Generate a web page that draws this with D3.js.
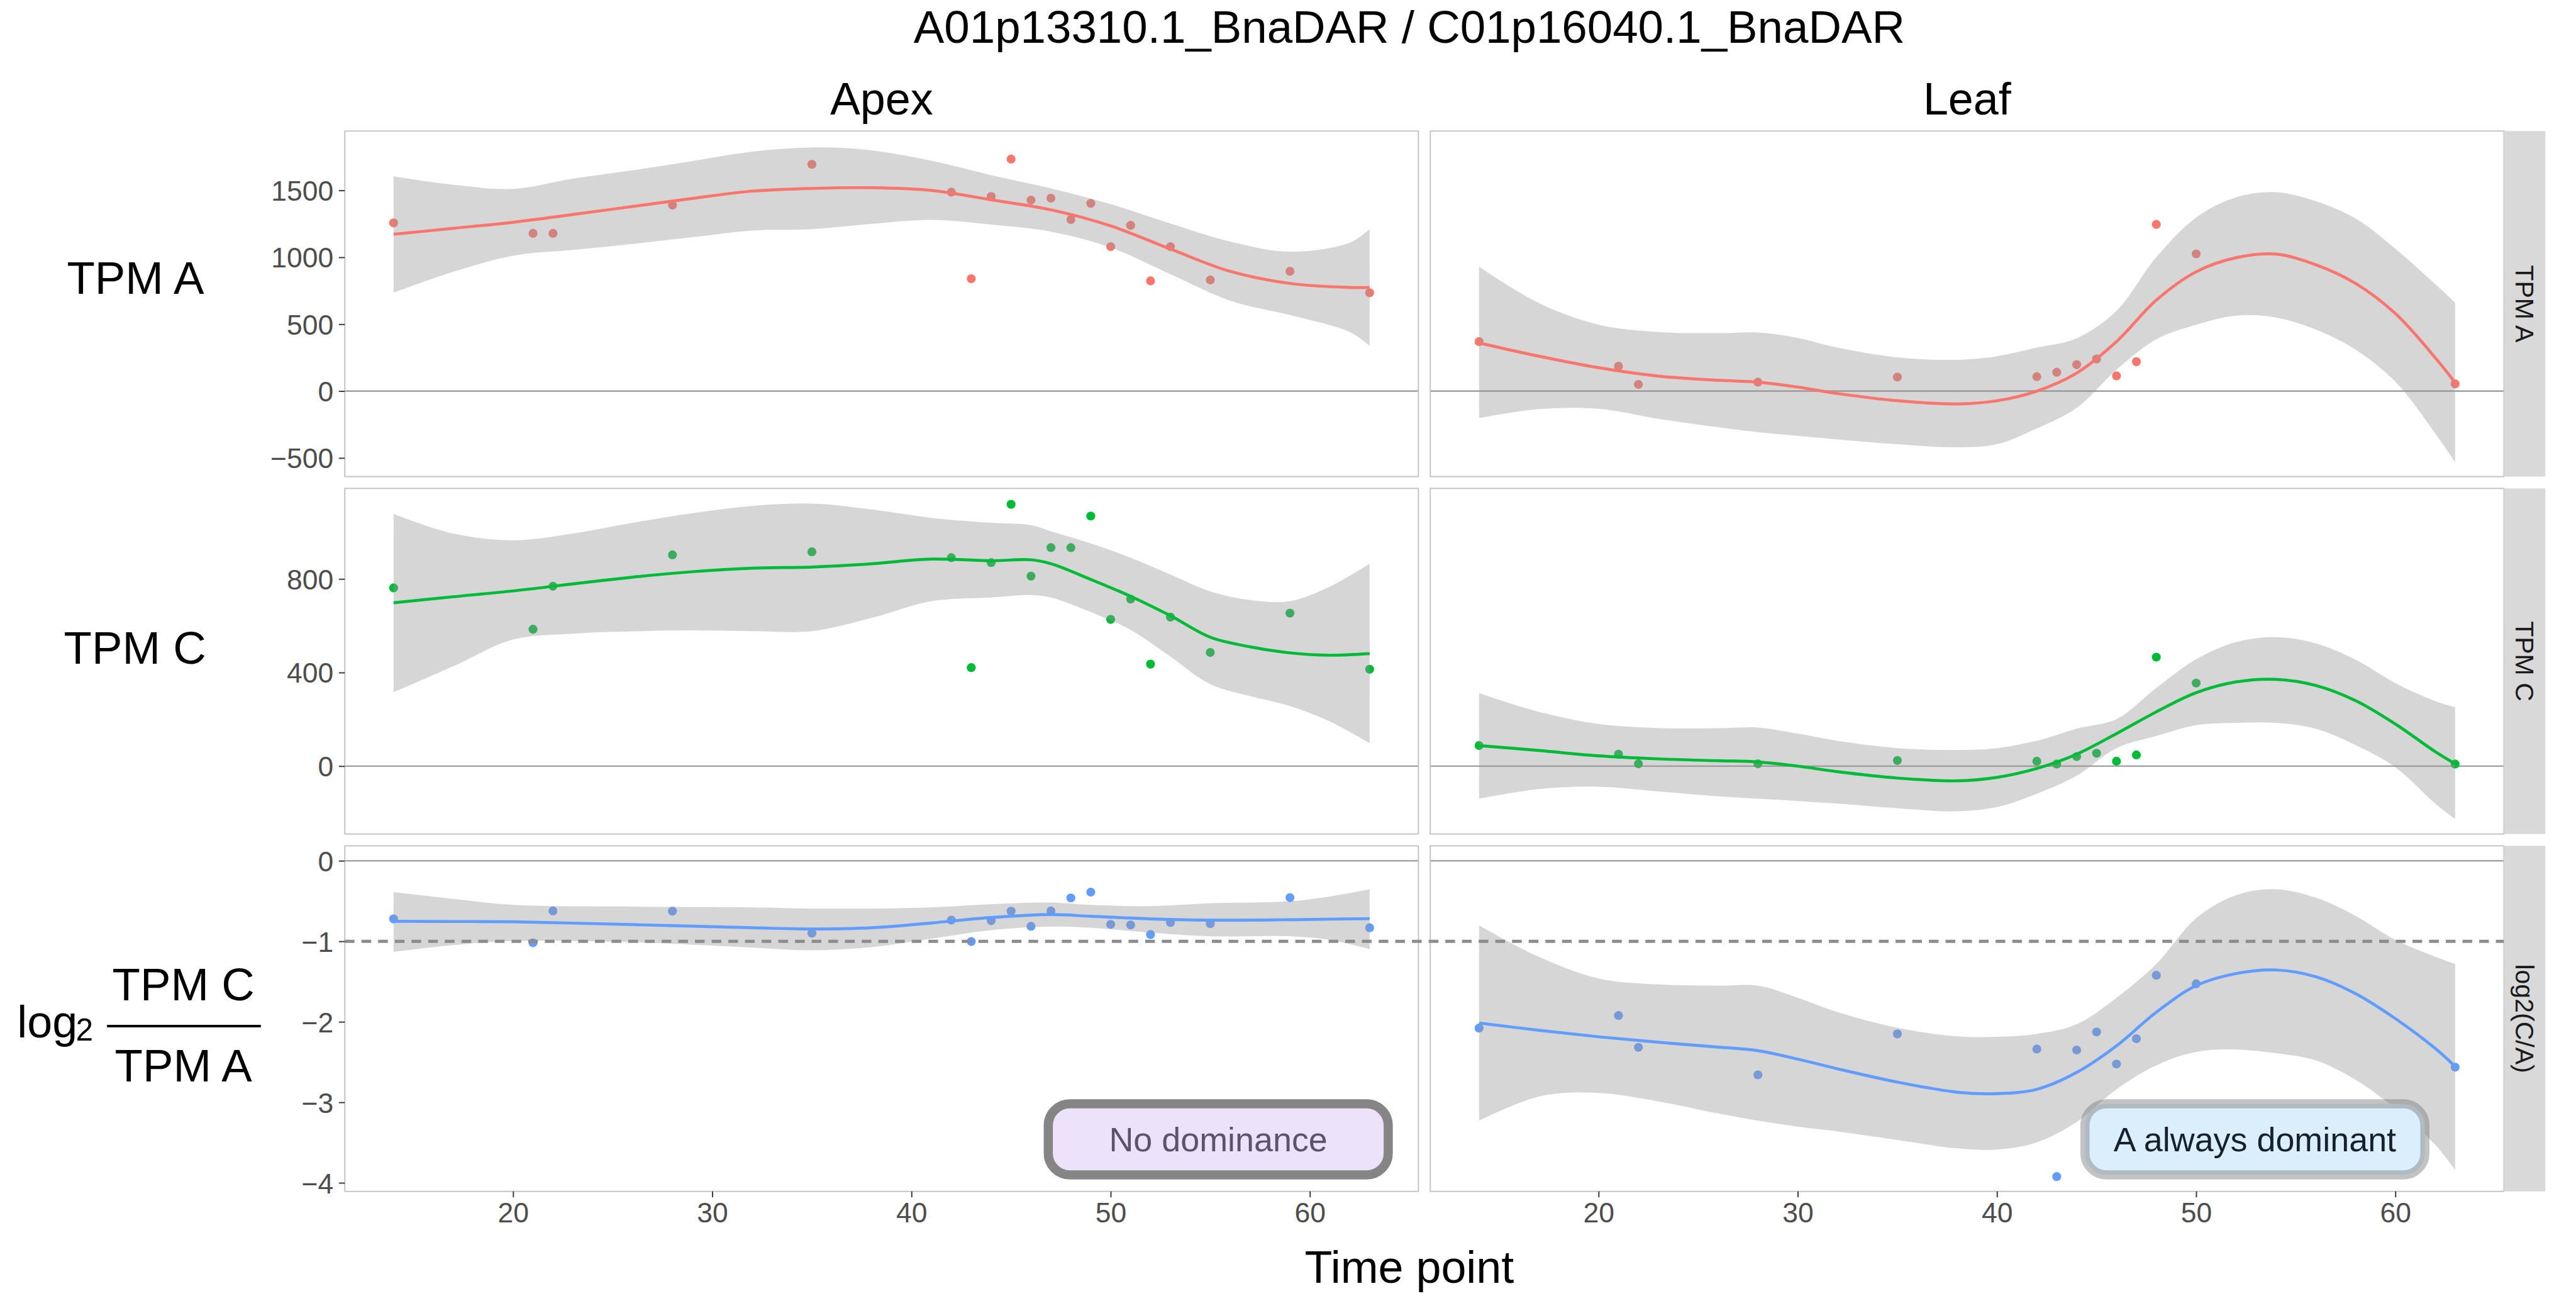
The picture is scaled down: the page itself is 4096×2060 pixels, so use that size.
<!DOCTYPE html>
<html><head><meta charset="utf-8">
<script src="https://cdn.jsdelivr.net/npm/d3@7"></script>
<style>html,body{margin:0;padding:0;background:#fff;} svg{display:block;font-family:"Liberation Sans",Arial,Helvetica,sans-serif;}</style>
</head><body><svg id="chart" width="4096" height="2060"></svg>
<script>
// ---------------- data ----------------
const titleText = "A01p13310.1_BnaDAR / C01p16040.1_BnaDAR";
const tissues = ["Apex", "Leaf"];
const rowStrips = ["TPM A", "TPM C", "log2(C/A)"];
const xTicks = [20, 30, 40, 50, 60];
const yTicksA = [-500, 0, 500, 1000, 1500];
const yTicksC = [0, 400, 800];
const yTicksL = [-4, -3, -2, -1, 0];

// observed points
const apexTime = [14,21,22,28,35,42,43,44,45,46,47,48,49,50,51,52,53,55,59,63];
const apexTpmA = [1257,1179,1179,1390,1695,1487,840,1455,1734,1428,1442,1282,1403,1080,1239,824,1080,831,896,735];
const apexTpmC = [762,585,769,903,916,891,421,870,1119,812,934,934,1069,627,714,436,637,486,654,414];
const apexLog2 = [-0.722,-1.018,-0.623,-0.626,-0.898,-0.737,-1.003,-0.743,-0.626,-0.814,-0.623,-0.461,-0.389,-0.790,-0.796,-0.916,-0.766,-0.781,-0.458,-0.832];

const leafTime = [14,21,22,28,35,42,43,44,45,46,47,48,50,63];
const leafTpmA = [370,186,50,67,105,108,141,198,240,114,220,1246,1026,54];
const leafTpmC = [88,51,10,10,24,21,9,41,55,21,48,466,355,9];
const leafLog2 = [-2.078,-1.922,-2.317,-2.659,-2.150,-2.338,-3.922,-2.350,-2.126,-2.524,-2.210,-1.422,-1.527,-2.563];

// smoother (loess) fit and confidence band
const apexA_t   = [14,17,20,23,26,29,32,35,38,41,44,47,50,53,56,59,62,63];
const apexA_fit = [1172,1217,1262,1320,1380,1440,1495,1515,1520,1500,1430,1355,1235,1062,895,805,775,775];
const apexA_lo  = [736,892,1012,1055,1100,1150,1200,1210,1250,1280,1244,1192,1073,874,676,568,442,339];
const apexA_hi  = [1605,1542,1512,1588,1650,1720,1790,1821,1800,1722,1614,1515,1397,1253,1118,1042,1109,1212];

const apexC_t   = [14,17,20,23,26,29,32,35,38,41,44,46,47,49,51,53,55,57,59,61,63];
const apexC_fit = [698,724,749,779,808,831,846,851,865,885,878,882,865,798,726,643,551,510,484,474,481];
const apexC_hi  = [1078,994,965,994,1040,1081,1112,1122,1097,1061,1040,1030,1004,952,891,819,747,710,705,767,865];
const apexC_lo  = [316,427,541,566,576,580,577,577,633,705,721,731,721,659,582,468,350,299,257,191,98];

const apexL_t   = [14,17,20,26,32,35,38,41,44,47,49,52,55,59,61,63];
const apexL_fit = [-0.751,-0.754,-0.757,-0.793,-0.832,-0.847,-0.832,-0.772,-0.705,-0.668,-0.689,-0.722,-0.737,-0.731,-0.725,-0.719];
const apexL_hi  = [-0.389,-0.473,-0.548,-0.569,-0.578,-0.593,-0.593,-0.578,-0.539,-0.518,-0.548,-0.563,-0.527,-0.503,-0.443,-0.353];
const apexL_lo  = [-1.132,-1.048,-0.997,-1.012,-1.078,-1.111,-1.072,-0.967,-0.862,-0.817,-0.832,-0.892,-0.937,-0.937,-0.982,-1.096];

const leaf_t    = [14,17,20,23,26,28,30,32,35,38,40,42,44,46,48,50,52,54,56,58,60,62,63];
const leafA_fit = [360,261,175,112,81,67,30,-18,-72,-96,-72,0,135,370,680,892,997,1024,945,805,580,250,63];
const leafA_hi  = [929,658,496,442,433,438,397,325,252,234,261,325,395,600,1001,1298,1448,1487,1420,1290,1064,800,662];
const leafA_lo  = [-202,-135,-132,-207,-270,-307,-334,-361,-397,-420,-397,-279,-125,160,388,496,564,550,460,310,70,-315,-532];

const leafC_fit = [88,67,44,31,23,18,0,-24,-51,-63,-48,-10,51,139,232,314,360,371,345,280,180,62,10];
const leafC_hi  = [312,232,180,163,162,165,139,108,77,69,77,108,160,201,334,457,530,551,525,455,355,278,252];
const leafC_lo  = [-139,-98,-88,-108,-129,-139,-149,-160,-180,-193,-175,-118,-41,77,129,175,185,185,160,90,-5,-160,-226];

const leafL_fit = [-2.015,-2.105,-2.186,-2.254,-2.314,-2.359,-2.464,-2.584,-2.749,-2.874,-2.892,-2.838,-2.629,-2.299,-1.880,-1.551,-1.401,-1.356,-1.44,-1.65,-1.96,-2.33,-2.554];
const leafL_hi  = [-0.802,-1.192,-1.461,-1.536,-1.551,-1.551,-1.701,-1.880,-2.075,-2.180,-2.186,-2.150,-2.030,-1.701,-1.281,-0.713,-0.428,-0.353,-0.458,-0.683,-0.982,-1.192,-1.281];
const leafL_lo  = [-3.228,-2.928,-2.883,-2.988,-3.138,-3.228,-3.302,-3.362,-3.467,-3.572,-3.587,-3.497,-3.243,-2.838,-2.539,-2.374,-2.344,-2.389,-2.479,-2.719,-3.078,-3.527,-3.841];

const dominanceLabels = ["No dominance", "A always dominant"];
const dominanceAt = [[55.4, -3.46], [52.95, -3.46]];
const thresholdValue = -1;

// ---------------- layout (reference pixel units, scaled at the end) ----------------
const SCALE = 4096 / 4789;
const PX0 = [641, 2659], PW = 1996;
const PY0 = [243.5, 907.7, 1571.9], PH = 642.2;
const STRIP_W = 77;
const colors = ["#F8766D", "#00BA38", "#619CFF"];
const yDomains = [[-639, 1944], [-290, 1187], [-4.106, 0.186]];
const yTicksAll = [yTicksA, yTicksC, yTicksL];

const svg = d3.select("#chart");
const root = svg.append("g").attr("transform", `scale(${SCALE})`);

const xs = PX0.map(x0 => d3.scaleLinear().domain([11.55, 65.45]).range([x0, x0 + PW]));
const ys = PY0.map((y0, i) => d3.scaleLinear().domain(yDomains[i]).range([y0 + PH, y0]));

const panels = [
  {r:0,c:0,t:apexTime,v:apexTpmA,st:apexA_t,fit:apexA_fit,lo:apexA_lo,hi:apexA_hi},
  {r:0,c:1,t:leafTime,v:leafTpmA,st:leaf_t,fit:leafA_fit,lo:leafA_lo,hi:leafA_hi},
  {r:1,c:0,t:apexTime,v:apexTpmC,st:apexC_t,fit:apexC_fit,lo:apexC_lo,hi:apexC_hi},
  {r:1,c:1,t:leafTime,v:leafTpmC,st:leaf_t,fit:leafC_fit,lo:leafC_lo,hi:leafC_hi},
  {r:2,c:0,t:apexTime,v:apexLog2,st:apexL_t,fit:apexL_fit,lo:apexL_lo,hi:apexL_hi},
  {r:2,c:1,t:leafTime,v:leafLog2,st:leaf_t,fit:leafL_fit,lo:leafL_lo,hi:leafL_hi}
];

const FONT_AX = 52, FONT_BIG = 84;

panels.forEach(p => {
  const x = xs[p.c], y = ys[p.r];
  const g = root.append("g");
  g.append("rect").attr("x", PX0[p.c]).attr("y", PY0[p.r]).attr("width", PW).attr("height", PH).attr("fill", "#fff");
  // zero reference line
  g.append("line").attr("x1", PX0[p.c]).attr("x2", PX0[p.c] + PW)
    .attr("y1", y(0)).attr("y2", y(0)).attr("stroke", "#a6a6a6").attr("stroke-width", 3);
  // points (below ribbon)
  g.selectAll("circle.pt").data(p.t.map((t, i) => [t, p.v[i]])).join("circle")
    .attr("cx", d => x(d[0])).attr("cy", d => y(d[1])).attr("r", 8.3).attr("fill", colors[p.r]);
  const band = p.st.map((t, i) => ({t, lo: p.lo[i], hi: p.hi[i], f: p.fit[i]}));
  g.append("path").datum(band)
    .attr("d", d3.area().x(d => x(d.t)).y0(d => y(d.lo)).y1(d => y(d.hi)).curve(d3.curveCatmullRom))
    .attr("fill", "#999999").attr("fill-opacity", 0.4);
  g.append("path").datum(band)
    .attr("d", d3.line().x(d => x(d.t)).y(d => y(d.f)).curve(d3.curveCatmullRom))
    .attr("fill", "none").attr("stroke", colors[p.r]).attr("stroke-width", 5.5);
  g.append("rect").attr("x", PX0[p.c]).attr("y", PY0[p.r]).attr("width", PW).attr("height", PH)
    .attr("fill", "none").attr("stroke", "#c2c2c2").attr("stroke-width", 2.2);
});

// dashed threshold across the bottom row
root.append("line").attr("x1", PX0[0]).attr("x2", PX0[1] + PW)
  .attr("y1", ys[2](thresholdValue)).attr("y2", ys[2](thresholdValue))
  .attr("stroke", "#8c8c8c").attr("stroke-width", 6).attr("stroke-dasharray", "18,13");

// dominance labels
const boxStyles = [
  {fill: "#ECE2FA", stroke: "#858585", sop: 1, text: "#5d5469"},
  {fill: "#DAEEFB", stroke: "#7a7a7a", sop: 0.45, text: "#17212b"}
];
dominanceLabels.forEach((lab, i) => {
  const cx = xs[i](dominanceAt[i][0]), cy = ys[2](dominanceAt[i][1]);
  const w = 632, h = 132;
  root.append("rect").attr("x", cx - w/2).attr("y", cy - h/2).attr("width", w).attr("height", h)
    .attr("rx", 40).attr("ry", 40).attr("fill", boxStyles[i].fill)
    .attr("stroke", boxStyles[i].stroke).attr("stroke-opacity", boxStyles[i].sop).attr("stroke-width", 17);
  root.append("text").attr("x", cx).attr("y", cy).attr("dy", "0.36em").attr("text-anchor", "middle")
    .attr("font-size", 63).attr("fill", boxStyles[i].text).text(lab);
});

// axes
function styleAxis(sel) {
  sel.select(".domain").remove();
  sel.selectAll(".tick line").attr("stroke", "#333333").attr("stroke-width", 2.2);
  sel.selectAll(".tick text").attr("fill", "#4d4d4d").attr("font-size", FONT_AX)
    .attr("font-family", '"Liberation Sans",Arial,sans-serif');
}
const fmt = d3.format("d");
[0, 1, 2].forEach(r => {
  const ax = root.append("g").attr("transform", `translate(${PX0[0]},0)`)
    .call(d3.axisLeft(ys[r]).tickValues(yTicksAll[r]).tickFormat(fmt).tickSize(11).tickPadding(10));
  styleAxis(ax);
  ax.selectAll(".tick text").attr("dy", "0.36em");
});
[0, 1].forEach(c => {
  const ax = root.append("g").attr("transform", `translate(0,${PY0[2] + PH})`)
    .call(d3.axisBottom(xs[c]).tickValues(xTicks).tickFormat(fmt).tickSize(11).tickPadding(10));
  styleAxis(ax);
});

// column strips (top)
tissues.forEach((t, c) => {
  root.append("text").attr("x", PX0[c] + PW/2).attr("y", 213).attr("text-anchor", "middle")
    .attr("font-size", FONT_BIG).attr("fill", "#000").text(t);
});
// row strips (right)
rowStrips.forEach((s, r) => {
  const sx = PX0[1] + PW;
  root.append("rect").attr("x", sx).attr("y", PY0[r]).attr("width", STRIP_W).attr("height", PH).attr("fill", "#d9d9d9");
  root.append("text").attr("transform", `translate(${sx + STRIP_W/2},${PY0[r] + PH/2}) rotate(90)`)
    .attr("text-anchor", "middle").attr("dy", "0.35em").attr("font-size", 48).attr("fill", "#1a1a1a").text(s);
});

// title and axis title
root.append("text").attr("x", 2620).attr("y", 80).attr("text-anchor", "middle")
  .attr("font-size", 85).attr("fill", "#000").text(titleText);
root.append("text").attr("x", 2620).attr("y", 2384).attr("text-anchor", "middle")
  .attr("font-size", FONT_BIG).attr("fill", "#000").text("Time point");

// row labels on the left
root.append("text").attr("x", 252).attr("y", 546).attr("text-anchor", "middle").attr("font-size", 85).text("TPM A");
root.append("text").attr("x", 251).attr("y", 1233).attr("text-anchor", "middle").attr("font-size", 85).text("TPM C");
const fr = root.append("g");
fr.append("text").attr("x", 32).attr("y", 1928).attr("font-size", FONT_BIG).text("log");
fr.append("text").attr("x", 141).attr("y", 1934).attr("font-size", 58).text("2");
fr.append("line").attr("x1", 199).attr("x2", 485).attr("y1", 1907).attr("y2", 1907).attr("stroke", "#000").attr("stroke-width", 4.5);
fr.append("text").attr("x", 341).attr("y", 1859).attr("text-anchor", "middle").attr("font-size", 85).text("TPM C");
fr.append("text").attr("x", 341).attr("y", 2010).attr("text-anchor", "middle").attr("font-size", 85).text("TPM A");
</script></body></html>
